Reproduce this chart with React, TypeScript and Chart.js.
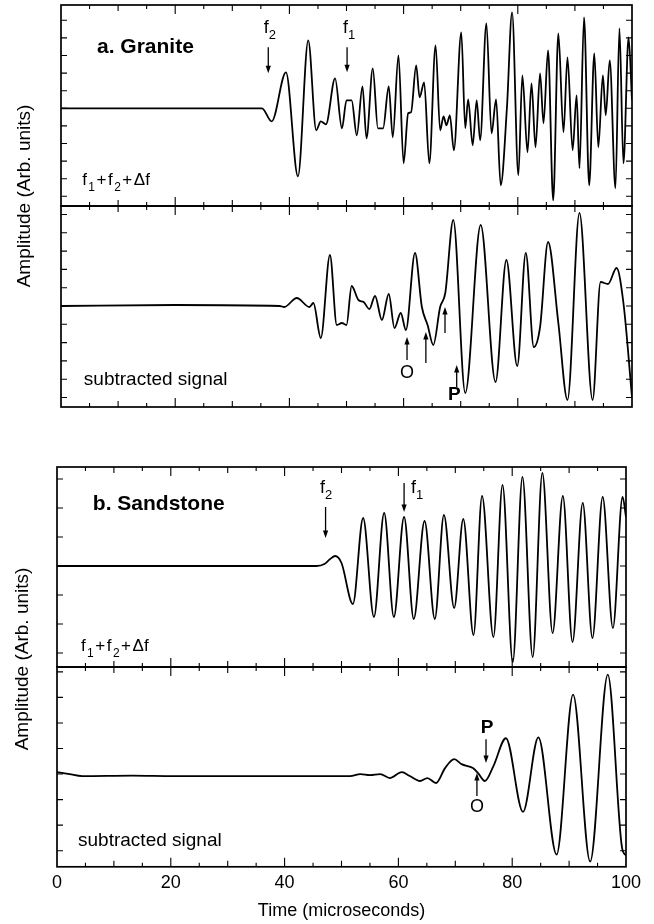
import React, { useEffect, useRef } from "react";
import { Chart, registerables } from "chart.js";

Chart.register(...registerables);

const FONT = '"Liberation Sans", Arial, Helvetica, sans-serif';

// ---------------- data (time in microseconds, amplitude in arbitrary units) ----------------
const graniteTopTime = [0, 35.2, 36.9, 39.4, 41.5, 43.3, 44.7, 45.5, 46.4, 48.0, 49.2, 50.0, 50.9, 51.8, 52.8, 53.5, 54.6, 55.5, 56.4, 57.4, 58.1, 59.1, 60.0, 60.8, 61.3, 62.2, 62.8, 63.6, 64.5, 65.6, 66.4, 67.0, 67.5, 68.1, 68.8, 70.1, 70.8, 71.3, 72.1, 72.8, 73.4, 74.5, 75.4, 76.2, 77.0, 78.1, 79.0, 80.1, 80.8, 81.7, 82.4, 83.1, 83.9, 84.5, 85.3, 86.2, 87.1, 88.0, 88.7, 89.6, 90.3, 90.8, 91.6, 92.5, 93.4, 94.1, 94.9, 95.4, 96.1, 97.1, 97.8, 98.5, 99.4, 100];
const graniteTopAmp = [0, 0, -0.13, 0.36, -0.68, 0.68, -0.22, -0.13, -0.16, 0.30, -0.20, 0.08, 0.08, -0.27, 0.22, -0.30, 0.40, -0.20, -0.20, 0.22, -0.29, 0.53, -0.55, -0.05, -0.04, 0.43, 0.11, 0.26, -0.55, 0.63, -0.22, -0.08, -0.17, -0.07, -0.42, 0.76, -0.20, 0.09, -0.37, 0.08, -0.32, 0.85, -0.25, 0.09, -0.77, 0.01, 0.96, -0.67, 0.33, -0.44, 0.25, -0.39, 0.35, -0.15, 0.58, -0.92, 0.75, -0.24, 0.51, -0.42, 0.13, -0.60, 0.91, -0.77, 0.55, -0.39, 0.33, -0.07, 0.48, -0.80, 0.80, -0.55, 0.71, 0.08];

const graniteSubTime = [0, 20, 38.3, 39.1, 41.3, 43.5, 44.2, 45.5, 47.1, 48.3, 49.2, 50.0, 50.9, 52.1, 53.0, 54.0, 55.0, 56.2, 57.4, 58.4, 59.5, 60.4, 62.0, 63.2, 64.2, 65.2, 66.4, 67.3, 68.7, 70.8, 73.5, 76.1, 78.0, 79.9, 81.4, 82.8, 83.9, 85.3, 87.1, 88.7, 90.8, 93.1, 94.5, 95.8, 97.3, 98.5, 100];
const graniteSubAmp = [0, 0.01, 0, -0.01, 0.08, -0.01, 0.03, -0.32, 0.51, -0.19, -0.17, -0.19, 0.20, 0.06, 0.04, -0.03, 0.10, -0.14, 0.12, -0.22, -0.07, -0.24, 0.53, -0.01, -0.19, -0.39, -0.01, 0.13, 0.86, -0.87, 0.81, -0.76, 0.46, -0.60, 0.53, -0.41, -0.21, 0.64, -0.17, -0.94, 0.93, -0.94, 0.24, 0.22, 0.38, 0.03, -0.91];

const sandTopTime = [0, 45.6, 47.0, 48.0, 48.9, 50.0, 52.0, 53.8, 55.7, 57.5, 59.2, 61.0, 62.7, 64.6, 66.4, 68.0, 69.8, 71.4, 73.2, 74.7, 76.7, 78.3, 80.1, 81.8, 83.6, 85.3, 87.1, 88.9, 90.6, 92.4, 94.1, 95.9, 97.7, 99.4, 100];
const sandTopAmp = [0, 0, 0.02, 0.07, 0.10, 0.03, -0.38, 0.48, -0.51, 0.53, -0.51, 0.49, -0.53, 0.45, -0.53, 0.51, -0.42, 0.47, -0.69, 0.70, -0.71, 0.81, -0.96, 0.89, -0.91, 0.93, -0.67, 0.70, -0.76, 0.63, -0.72, 0.69, -0.62, 0.69, 0.49];

const sandSubTime = [0, 2.2, 4.4, 13.2, 20.6, 39.7, 48.0, 51.5, 53.3, 55.0, 56.8, 58.5, 60.6, 62.0, 63.8, 65.1, 66.6, 68.2, 69.8, 71.1, 73.1, 74.0, 75.2, 76.7, 78.9, 81.9, 84.6, 87.8, 90.7, 93.7, 96.8, 99.3, 100];
const sandSubAmp = [0.02, 0.0, -0.02, -0.015, -0.02, -0.02, -0.02, -0.02, 0.0, -0.01, 0.0, -0.04, 0.02, -0.02, -0.07, -0.04, -0.09, 0.06, 0.15, 0.10, 0.06, 0.01, -0.07, 0.08, 0.36, -0.38, 0.37, -0.81, 0.80, -0.88, 1.00, -0.74, -0.82];

const xTickLabelsStep = 20;
const xTitle = "Time (microseconds)";
const yTitle = "Amplitude (Arb. units)";

// ---------------- helpers ----------------
type Part = [string, boolean];
type Ann =
  | { type: "text"; t: number; a: number; parts: Part[]; size: number; sub?: number; bold?: boolean; align?: "left" | "center" }
  | { type: "arrow"; t: number; from: number; to: number };

const fsum: Part[] = [["f", false], ["1", true], ["+", false], ["f", false], ["2", true], ["+", false], ["\u0394f", false]];

function zip(t: number[], a: number[]) {
  const n = Math.min(t.length, a.length);
  const out: { x: number; y: number }[] = [];
  for (let i = 0; i < n; i++) out.push({ x: t[i], y: a[i] });
  return out;
}

function drawParts(ctx: CanvasRenderingContext2D, x: number, y: number, ann: any) {
  const size = ann.size;
  const sub = ann.sub ?? Math.round(size * 0.72);
  const weight = ann.bold ? "bold " : "";
  const gap = ann.parts.length > 3 ? 1.5 : 0;
  const widths = ann.parts.map(([s, isSub]: Part) => {
    ctx.font = `${weight}${isSub ? sub : size}px ${FONT}`;
    return ctx.measureText(s).width;
  });
  const total = widths.reduce((p: number, c: number) => p + c + gap, 0) - gap;
  let cx = ann.align === "center" ? x - total / 2 : x;
  ctx.textBaseline = "alphabetic";
  ctx.textAlign = "left";
  ann.parts.forEach(([s, isSub]: Part, i: number) => {
    ctx.font = `${weight}${isSub ? sub : size}px ${FONT}`;
    ctx.fillText(s, cx, isSub ? y + size * 0.33 : y);
    cx += widths[i] + gap;
  });
}

function makeDecor(cfg: any) {
  return {
    id: "decor",
    afterDatasetsDraw(chart: any) {
      const { ctx, chartArea: ca, scales } = chart;
      const xs = scales.x;
      const ys = scales.y;
      ctx.save();
      ctx.strokeStyle = "#000";
      ctx.fillStyle = "#000";
      // frame
      ctx.lineWidth = 1.7;
      ctx.strokeRect(ca.left, ca.top, ca.right - ca.left, ca.bottom - ca.top);
      // inward x ticks
      ctx.lineWidth = 1.1;
      ctx.beginPath();
      for (let i = 1; i < 20; i++) {
        const v = i * 5;
        const px = xs.getPixelForValue(v);
        const len = v % 20 === 0 ? 9 : v % 10 === 0 ? 6 : 4;
        ctx.moveTo(px, ca.top);
        ctx.lineTo(px, ca.top + len);
        ctx.moveTo(px, ca.bottom);
        ctx.lineTo(px, ca.bottom - len);
      }
      // inward y ticks
      const step = cfg.yStep;
      const vals: number[] = [];
      for (let k = 0; k * step < ys.max - 0.02; k++) vals.push(k * step);
      for (let k = 1; -k * step > ys.min + 0.02; k++) vals.push(-k * step);
      vals.forEach((v) => {
        const py = ys.getPixelForValue(v);
        ctx.moveTo(ca.left, py);
        ctx.lineTo(ca.left + 6, py);
        ctx.moveTo(ca.right, py);
        ctx.lineTo(ca.right - 6, py);
      });
      ctx.stroke();
      // annotations
      cfg.anns.forEach((ann: Ann) => {
        const x = xs.getPixelForValue(ann.t);
        if (ann.type === "arrow") {
          const y0 = ys.getPixelForValue(ann.from);
          const y1 = ys.getPixelForValue(ann.to);
          const dir = y1 > y0 ? 1 : -1;
          ctx.lineWidth = 1.3;
          ctx.beginPath();
          ctx.moveTo(x, y0);
          ctx.lineTo(x, y1 - dir * 5);
          ctx.stroke();
          ctx.beginPath();
          ctx.moveTo(x, y1);
          ctx.lineTo(x - 2.6, y1 - dir * 7.5);
          ctx.lineTo(x + 2.6, y1 - dir * 7.5);
          ctx.closePath();
          ctx.fill();
        } else {
          drawParts(ctx, x, ys.getPixelForValue(ann.a), ann);
        }
      });
      ctx.restore();
    },
  };
}

// ---------------- subplot configurations ----------------
const panels = [
  {
    key: "granite-top",
    canvasTop: 1,
    canvasHeight: 209,
    pad: { left: 61, right: 22, top: 4, bottom: 4 },
    time: graniteTopTime,
    amp: graniteTopAmp,
    yMin: -0.977,
    yMax: 1.033,
    yStep: 0.176,
    xAxis: false,
    anns: [
      { type: "text", t: 6.3, a: 0.55, parts: [["a. Granite", false]], size: 21, bold: true },
      { type: "text", t: 35.5, a: 0.75, parts: [["f", false], ["2", true]], size: 18, sub: 13 },
      { type: "arrow", t: 36.3, from: 0.61, to: 0.35 },
      { type: "text", t: 49.4, a: 0.75, parts: [["f", false], ["1", true]], size: 18, sub: 13 },
      { type: "arrow", t: 50.1, from: 0.61, to: 0.36 },
      { type: "text", t: 3.7, a: -0.77, parts: fsum, size: 17, sub: 12 },
    ] as Ann[],
  },
  {
    key: "granite-sub",
    canvasTop: 202,
    canvasHeight: 209,
    pad: { left: 61, right: 22, top: 4, bottom: 4 },
    time: graniteSubTime,
    amp: graniteSubAmp,
    yMin: -1.01,
    yMax: 1.0,
    yStep: 0.183,
    xAxis: false,
    anns: [
      { type: "text", t: 4.0, a: -0.79, parts: [["subtracted signal", false]], size: 19 },
      { type: "text", t: 60.6, a: -0.72, parts: [["O", false]], size: 18, align: "center" },
      { type: "arrow", t: 60.6, from: -0.54, to: -0.31 },
      { type: "arrow", t: 63.9, from: -0.57, to: -0.26 },
      { type: "arrow", t: 67.25, from: -0.27, to: -0.01 },
      { type: "text", t: 68.9, a: -0.94, parts: [["P", false]], size: 19, bold: true, align: "center" },
      { type: "arrow", t: 69.3, from: -0.81, to: -0.59 },
    ] as Ann[],
  },
  {
    key: "sand-top",
    canvasTop: 463,
    canvasHeight: 208,
    pad: { left: 57, right: 28, top: 4, bottom: 4 },
    time: sandTopTime,
    amp: sandTopAmp,
    yMin: -1.01,
    yMax: 0.99,
    yStep: 0.29,
    xAxis: false,
    anns: [
      { type: "text", t: 6.3, a: 0.56, parts: [["b. Sandstone", false]], size: 21, bold: true },
      { type: "text", t: 46.2, a: 0.73, parts: [["f", false], ["2", true]], size: 18, sub: 13 },
      { type: "arrow", t: 47.2, from: 0.59, to: 0.28 },
      { type: "text", t: 62.2, a: 0.73, parts: [["f", false], ["1", true]], size: 18, sub: 13 },
      { type: "arrow", t: 61.0, from: 0.83, to: 0.54 },
      { type: "text", t: 4.2, a: -0.85, parts: fsum, size: 17, sub: 12 },
    ] as Ann[],
  },
  {
    key: "sand-sub",
    canvasTop: 663,
    canvasHeight: 261,
    pad: { left: 57, right: 28, top: 4, bottom: 0 },
    time: sandSubTime,
    amp: sandSubAmp,
    yMin: -0.933,
    yMax: 1.077,
    yStep: 0.257,
    xAxis: true,
    anns: [
      { type: "text", t: 3.7, a: -0.72, parts: [["subtracted signal", false]], size: 19 },
      { type: "text", t: 75.6, a: 0.41, parts: [["P", false]], size: 19, bold: true, align: "center" },
      { type: "arrow", t: 75.4, from: 0.35, to: 0.11 },
      { type: "text", t: 73.8, a: -0.38, parts: [["O", false]], size: 18, align: "center" },
      { type: "arrow", t: 73.8, from: -0.22, to: 0.01 },
    ] as Ann[],
  },
];

function WaveChart({ cfg }: { cfg: any }) {
  const ref = useRef<HTMLCanvasElement>(null);
  useEffect(() => {
    if (!ref.current) return;
    const xScale: any = cfg.xAxis
      ? {
          type: "linear",
          min: 0,
          max: 100,
          position: "bottom",
          display: true,
          grid: { display: false, drawTicks: false },
          border: { display: false },
          ticks: {
            stepSize: xTickLabelsStep,
            color: "#000",
            font: { family: FONT, size: 18 },
            padding: 5,
            maxRotation: 0,
            autoSkip: false,
          },
          title: {
            display: true,
            text: xTitle,
            color: "#000",
            font: { family: FONT, size: 18 },
            padding: { top: 2, bottom: 2 },
          },
        }
      : { type: "linear", min: 0, max: 100, display: false };
    const chart = new Chart(ref.current, {
      type: "line",
      data: {
        datasets: [
          {
            data: zip(cfg.time, cfg.amp),
            borderColor: "#000",
            borderWidth: 1.8,
            pointRadius: 0,
            fill: false,
            cubicInterpolationMode: "monotone",
          },
        ],
      },
      options: {
        animation: false,
        responsive: false,
        maintainAspectRatio: false,
        devicePixelRatio: 1,
        layout: { padding: cfg.pad },
        plugins: { legend: { display: false }, tooltip: { enabled: false } },
        scales: {
          x: xScale,
          y: { type: "linear", min: cfg.yMin, max: cfg.yMax, display: false },
        },
      } as any,
      plugins: [makeDecor(cfg)],
    } as any);
    return () => chart.destroy();
  }, [cfg]);
  return (
    <canvas
      ref={ref}
      width={654}
      height={cfg.canvasHeight}
      style={{ position: "absolute", left: 0, top: cfg.canvasTop, width: 654, height: cfg.canvasHeight }}
    />
  );
}

const yTitleStyle = (cx: number, cy: number): React.CSSProperties => ({
  position: "absolute",
  left: cx,
  top: cy,
  transform: "translate(-50%, -50%) rotate(-90deg)",
  whiteSpace: "nowrap",
  font: `19px ${FONT}`,
  color: "#000",
  lineHeight: "20px",
});

export default function App() {
  return (
    <div style={{ position: "absolute", left: 0, top: 0, width: 654, height: 924, background: "#fff", overflow: "hidden" }}>
      {panels.map((p) => (
        <WaveChart key={p.key} cfg={p} />
      ))}
      <div style={yTitleStyle(24, 196)}>{yTitle}</div>
      <div style={yTitleStyle(22, 659)}>{yTitle}</div>
    </div>
  );
}
